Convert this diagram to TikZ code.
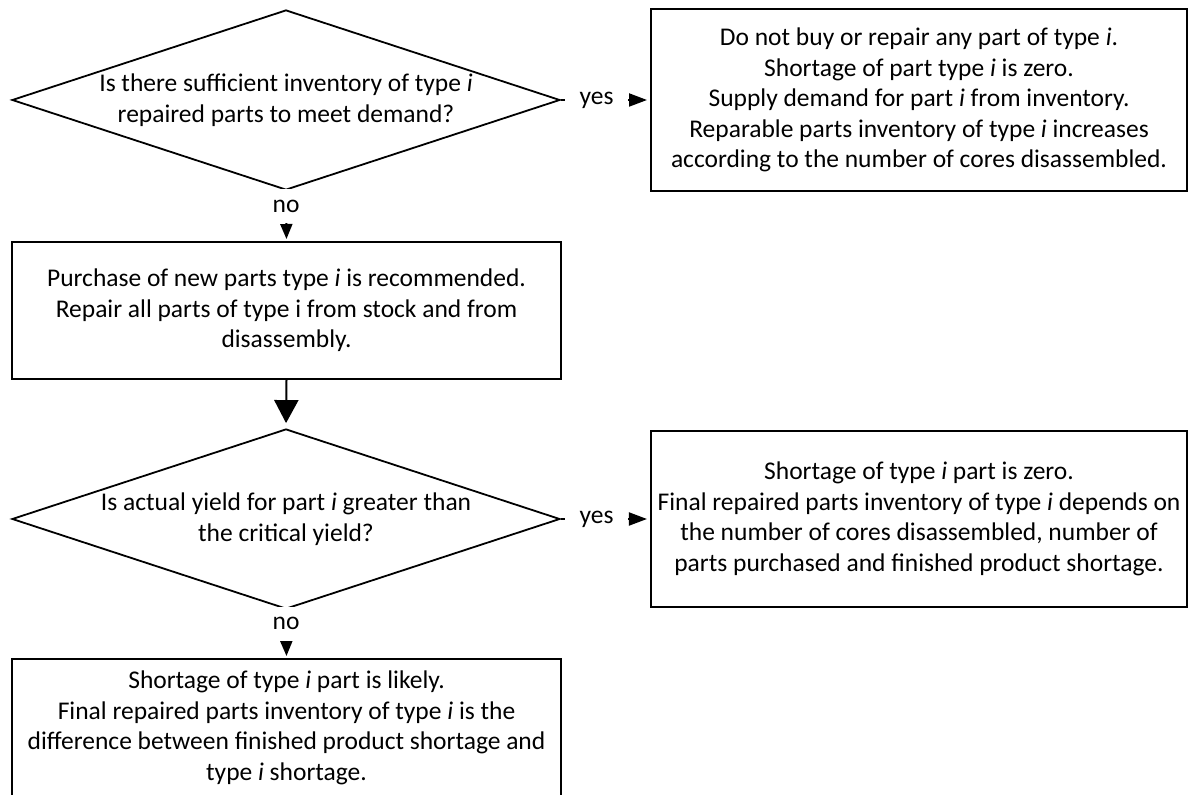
\documentclass[tikz,border=0pt]{standalone}
\usepackage{fontspec}
\setmainfont{Carlito}
\usetikzlibrary{shapes.geometric,arrows.meta}

\tikzset{
  decision/.style={diamond, draw, line width=0.9pt, aspect=3.05, inner sep=0pt,
    minimum width=274pt, minimum height=90pt, align=center},
  outcome/.style={rectangle, draw, line width=1pt, align=center},
  answer/.style={fill=white, inner xsep=7.5pt, inner ysep=5.5pt},
  flowarrow/.style={-{Triangle[width=6pt,length=7.5pt]}, line width=1pt},
  sidearrow/.style={-{Triangle[width=6.5pt,length=9pt]}, line width=1pt},
}

\begin{document}
\begin{tikzpicture}[x=0.5pt, y=-0.5pt, font=\fontsize{12.75}{15.3}\selectfont]
    \useasboundingbox (0,0) rectangle (1193,795);

    % Questions on the left
    \node[decision] (qinv) at (286,100) {Is there sufficient inventory of type \textit{i}\\repaired parts to meet demand?};
    \node[decision] (qyield) at (286,519) {Is actual yield for part \textit{i} greater than\\the critical yield?};

    % Boxes under the questions
    \node[outcome, minimum width=274.5pt, minimum height=68.5pt] (buy) at (286.5,310.5)
        {Purchase of new parts type \textit{i} is recommended.\\Repair all parts of type i from stock and from\\disassembly.};
    \node[outcome, minimum width=274.5pt, minimum height=69pt] (likely) at (286.5,728)
        {Shortage of type \textit{i} part is likely.\\Final repaired parts inventory of type \textit{i} is the\\difference between finished product shortage and\\type \textit{i} shortage.};

    % Boxes for the yes answers
    \node[outcome, minimum width=268pt, minimum height=91pt] (noneed) at (919,100)
        {Do not buy or repair any part of type \textit{i}.\\Shortage of part type \textit{i} is zero.\\Supply demand for part \textit{i} from inventory.\\Reparable parts inventory of type \textit{i} increases\\according to the number of cores disassembled.};
    \node[outcome, minimum width=268pt, minimum height=88pt] (zero) at (919,519)
        {Shortage of type \textit{i} part is zero.\\Final repaired parts inventory of type \textit{i} depends on\\the number of cores disassembled, number of\\parts purchased and finished product shortage.};

    % Connectors
    \draw[flowarrow, shorten >=1pt] (qinv.south) -- node[answer, pos=0.3] (noinv) {no} (buy.north);
    \draw[sidearrow, shorten >=1.5pt] (qinv.east) -- node[answer, pos=0.4] (yesinv) {yes} (noneed.west);
    \draw[-{Triangle[width=12pt,length=11.5pt]}, line width=1pt, shorten >=2.5pt] (buy.south) -- (qyield.north);
    \draw[flowarrow, shorten >=1pt] (qyield.south) -- node[answer, pos=0.29] (noyield) {no} (likely.north);
    \draw[sidearrow, shorten >=1.5pt] (qyield.east) -- node[answer, pos=0.4] (yesyield) {yes} (zero.west);
\end{tikzpicture}
\end{document}
